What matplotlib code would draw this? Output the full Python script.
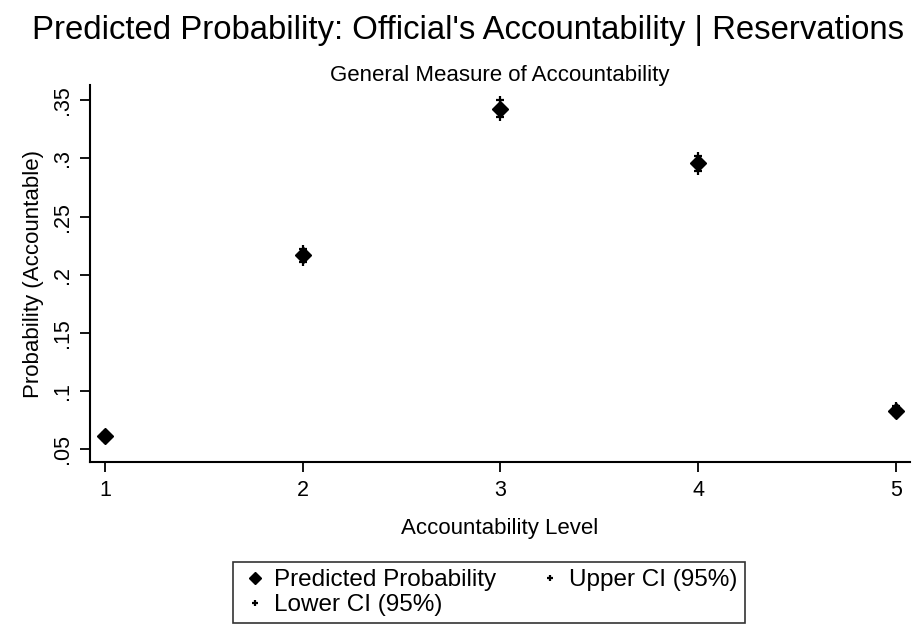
import numpy as np
import matplotlib
matplotlib.use("Agg")
import matplotlib.pyplot as plt

plt.rcParams['font.family'] = ['Liberation Sans', 'DejaVu Sans']

# accountability levels and predicted probabilities
levels = [1, 2, 3, 4, 5]
predicted = [0.061, 0.217, 0.343, 0.296, 0.083]
upper_ci = [0.064, 0.222, 0.350, 0.302, 0.087]
lower_ci = [0.058, 0.211, 0.336, 0.289, 0.079]

yticks = [0.05, 0.1, 0.15, 0.2, 0.25, 0.3, 0.35]
ytick_labels = ['.05', '.1', '.15', '.2', '.25', '.3', '.35']

fig = plt.figure(figsize=(9.17, 6.27), dpi=100)
ax = fig.add_axes([0.098, 0.263, 0.894, 0.601])

p_pred, = ax.plot(levels, predicted, linestyle='none', marker='D', markersize=8,
                  color='black', label='Predicted Probability')
p_up, = ax.plot(levels, upper_ci, linestyle='none', marker='+', markersize=6,
                markeredgewidth=1.6, color='black', label='Upper CI (95%)')
p_lo, = ax.plot(levels, lower_ci, linestyle='none', marker='+', markersize=6,
                markeredgewidth=1.6, color='black', label='Lower CI (95%)')

ax.set_xlim(0.924, 5.07)
ax.set_ylim(0.0388, 0.363)
ax.set_xticks(levels)
ax.set_yticks(yticks)
ax.set_yticklabels(ytick_labels, rotation=90, va='center')
ax.tick_params(axis='both', direction='out', length=7, width=1.3,
               labelsize=15.5, colors='black')
ax.tick_params(axis='x', pad=6)
ax.tick_params(axis='y', pad=5)

for side in ['top', 'right']:
    ax.spines[side].set_visible(False)
for side in ['left', 'bottom']:
    ax.spines[side].set_linewidth(1.5)

ax.set_xlabel('Accountability Level', fontsize=16, labelpad=12)
ax.set_ylabel('Probability (Accountable)', fontsize=16, labelpad=6)

fig.text(0.51, 0.952, "Predicted Probability: Official's Accountability | Reservations",
         ha='center', va='center', fontsize=23.7)
fig.text(0.545, 0.88, 'General Measure of Accountability',
         ha='center', va='center', fontsize=16)

# column-wise fill: Predicted / Lower in first column, Upper in second
leg = ax.legend([p_pred, p_lo, p_up],
                ['Predicted Probability', 'Lower CI (95%)', 'Upper CI (95%)'],
                loc='upper left', bbox_to_anchor=(0.254, 0.104),
                bbox_transform=fig.transFigure, borderaxespad=0, ncol=2,
                fontsize=17.5, frameon=True, fancybox=False, edgecolor='black',
                handlelength=1.2, handletextpad=0.2, columnspacing=1.6,
                borderpad=0.3, labelspacing=0.12, markerscale=0.75)
leg.get_frame().set_linewidth(1.2)

plt.savefig('out.png', dpi=100)
